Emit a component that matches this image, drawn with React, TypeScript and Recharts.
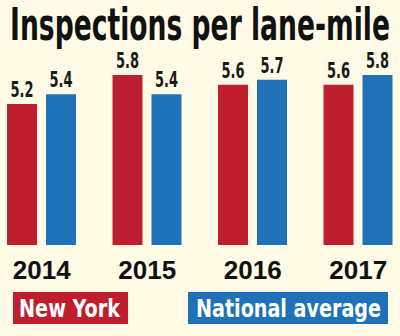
import React from "react";
import { BarChart, Bar, XAxis, YAxis, LabelList } from "recharts";

const years = ["2014", "2015", "2016", "2017"];
const newYork = [5.2, 5.8, 5.6, 5.6];
const national = [5.4, 5.4, 5.7, 5.8];

const RED = "#bf1e2e";
const BLUE = "#1f71b8";
const BG = "#fffbe6";
const NARROW = "'Liberation Sans Narrow', 'DejaVu Sans Condensed', sans-serif";

const data = years.map((y, i) => ({ year: y, ny: newYork[i], nat: national[i] }));

const YearTick = (props: any) => {
  const { x, y, payload } = props;
  return (
    <text
      x={x}
      y={y + 26}
      textAnchor="middle"
      fontFamily="'Liberation Sans', Arial, sans-serif"
      fontWeight="bold"
      fontSize={26}
      fill="#111"
    >
      {payload.value}
    </text>
  );
};

// value label above each bar, squeezed to look like the condensed print face
const ValueLabel = (props: any) => {
  const { x, y, width, value } = props;
  const cx = x + width / 2;
  return (
    <text
      x={cx - 11.5}
      y={y - 7}
      fontFamily={NARROW}
      fontWeight="bold"
      fontSize={21}
      fill="#1a1a1a"
      textLength={23}
      lengthAdjust="spacingAndGlyphs"
    >
      {Number(value).toFixed(1)}
    </text>
  );
};

export default function App() {
  return (
    <div
      style={{
        position: "absolute",
        left: 0,
        top: 0,
        width: 400,
        height: 336,
        background: BG,
        overflow: "hidden",
      }}
    >
      <BarChart
        width={400}
        height={336}
        data={data}
        margin={{ top: 60, right: -11, bottom: 61, left: -11 }}
        barSize={30}
        barGap={9}
      >
        <YAxis hide domain={[2.28, 6.11]} allowDataOverflow />
        <XAxis
          dataKey="year"
          axisLine={false}
          tickLine={false}
          height={30}
          interval={0}
          tick={<YearTick />}
        />
        <Bar dataKey="ny" fill={RED} isAnimationActive={false}>
          <LabelList dataKey="ny" content={<ValueLabel />} />
        </Bar>
        <Bar dataKey="nat" fill={BLUE} isAnimationActive={false}>
          <LabelList dataKey="nat" content={<ValueLabel />} />
        </Bar>
      </BarChart>
      <svg
        width={400}
        height={336}
        style={{ position: "absolute", left: 0, top: 0, pointerEvents: "none" }}
      >
        <text
          x={10}
          y={40}
          fontFamily={NARROW}
          fontWeight="bold"
          fontSize={45}
          fill="#111"
          textLength={380}
          lengthAdjust="spacingAndGlyphs"
        >
          Inspections per lane-mile
        </text>
        <rect x={13} y={292} width={115} height={32} fill={RED} />
        <text
          x={19}
          y={317}
          fontFamily={NARROW}
          fontWeight="bold"
          fontSize={25}
          fill="#fff"
          textLength={101}
          lengthAdjust="spacingAndGlyphs"
        >
          New York
        </text>
        <rect x={188} y={292} width={200} height={32} fill={BLUE} />
        <text
          x={196}
          y={317}
          fontFamily={NARROW}
          fontWeight="bold"
          fontSize={25}
          fill="#fff"
          textLength={185}
          lengthAdjust="spacingAndGlyphs"
        >
          National average
        </text>
      </svg>
    </div>
  );
}
